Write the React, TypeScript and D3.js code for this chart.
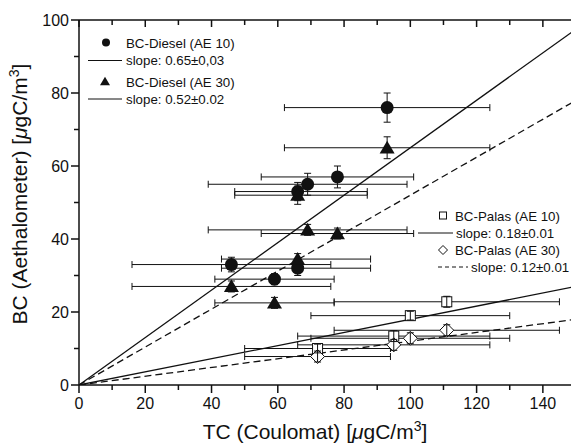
import React from "react";
import * as d3 from "d3";

// Diesel measurements (shared TC values)
const dieselTC = [93, 78, 69, 66, 66, 46, 59];
const dieselTCLo = [62, 55, 39, 47, 43, 16, 41];
const dieselTCHi = [124, 101, 99, 87, 88, 76, 77];
const dieselAE10 = [76, 57, 55, 53, 32, 33, 29];
const dieselAE10Err = [4, 3, 3, 2.5, 2, 2, 1.5];
const dieselAE30 = [65, 41.5, 42.5, 52, 34.5, 27, 22.5];
const dieselAE30Err = [3, 1.5, 1.5, 2.5, 1.5, 1.5, 1.5];

// Palas measurements
const palasTC = [72, 95, 100, 111];
const palasTCLo = [50, 66, 70, 77];
const palasTCHi = [94, 124, 130, 145];
const palasAE10 = [10, 13.4, 19, 22.8];
const palasAE10Err = [1.2, 1.5, 1.2, 1.5];
const palasAE30 = [7.8, 11, 12.8, 15];
const palasAE30Err = [1.5, 1.5, 1.5, 1.5];

// Fit slopes
const slopes = [0.65, 0.52, 0.18, 0.12];
const slopeDashed = [false, true, false, true];

const xTicks = [0, 20, 40, 60, 80, 100, 120, 140];
const yTicks = [0, 20, 40, 60, 80, 100];

const W = 571;
const H = 446;
const FONT = "'Liberation Sans', Arial, Helvetica, sans-serif";

export default function App() {
  const x = d3.scaleLinear().domain([0, 150]).range([79, 576]);
  const y = d3.scaleLinear().domain([0, 100]).range([385, 20]);
  const line = d3.line<[number, number]>().x((d) => x(d[0])).y((d) => y(d[1]));

  const minorX = d3.range(10, 151, 20);
  const minorY = d3.range(10, 100, 20);
  const allX = d3.range(0, 151, 10);

  const xErr = (xs: number[], lo: number[], hi: number[], ys: number[], key: string) =>
    xs.map((_, i) => (
      <g key={key + i} stroke="#111" strokeWidth={1} fill="none">
        <line x1={x(lo[i])} x2={x(hi[i])} y1={y(ys[i])} y2={y(ys[i])} />
        <line x1={x(lo[i])} x2={x(lo[i])} y1={y(ys[i]) - 3.5} y2={y(ys[i]) + 3.5} />
        <line x1={x(hi[i])} x2={x(hi[i])} y1={y(ys[i]) - 3.5} y2={y(ys[i]) + 3.5} />
      </g>
    ));
  const yErr = (xs: number[], ys: number[], e: number[], key: string) =>
    xs.map((_, i) => (
      <g key={key + i} stroke="#111" strokeWidth={1} fill="none">
        <line x1={x(xs[i])} x2={x(xs[i])} y1={y(ys[i] - e[i])} y2={y(ys[i] + e[i])} />
        <line x1={x(xs[i]) - 3.5} x2={x(xs[i]) + 3.5} y1={y(ys[i] - e[i])} y2={y(ys[i] - e[i])} />
        <line x1={x(xs[i]) - 3.5} x2={x(xs[i]) + 3.5} y1={y(ys[i] + e[i])} y2={y(ys[i] + e[i])} />
      </g>
    ));

  const tri = (cx: number, cy: number, s: number) =>
    `M${cx},${cy - s * 0.95} L${cx + s},${cy + s * 0.75} L${cx - s},${cy + s * 0.75} Z`;
  const dia = (cx: number, cy: number, s: number) =>
    `M${cx},${cy - s} L${cx + s},${cy} L${cx},${cy + s} L${cx - s},${cy} Z`;

  const muLabel = (pre: string) => (
    <>
      {pre}
      <tspan fontStyle="italic">μ</tspan>
      gC/m
      <tspan fontSize="14" dy="-8">3</tspan>
      <tspan dy="8">]</tspan>
    </>
  );

  return (
    <svg
      width={W}
      height={H}
      style={{ position: "absolute", left: 0, top: 0, background: "#fff" }}
      fontFamily={FONT}
    >
      <rect width={W} height={H} fill="#fff" />
      <defs>
        <clipPath id="plot">
          <rect x={79} y={20} width={497} height={365} />
        </clipPath>
      </defs>

      {/* fit lines */}
      <g clipPath="url(#plot)">
        {slopes.map((s, i) => (
          <path
            key={"fit" + i}
            d={line([
              [0, 0],
              [150, 150 * s],
            ])!}
            stroke="#111"
            strokeWidth={1.3}
            fill="none"
            strokeDasharray={slopeDashed[i] ? "7,4" : undefined}
          />
        ))}
      </g>

      {/* x error bars */}
      {xErr(dieselTC, dieselTCLo, dieselTCHi, dieselAE10, "xa")}
      {xErr(dieselTC, dieselTCLo, dieselTCHi, dieselAE30, "xb")}
      {xErr(palasTC, palasTCLo, palasTCHi, palasAE10, "xc")}
      {xErr(palasTC, palasTCLo, palasTCHi, palasAE30, "xd")}

      {/* y error bars for filled markers */}
      {yErr(dieselTC, dieselAE10, dieselAE10Err, "ya")}
      {yErr(dieselTC, dieselAE30, dieselAE30Err, "yb")}

      {/* markers */}
      {dieselTC.map((v, i) => (
        <circle key={"c" + i} cx={x(v)} cy={y(dieselAE10[i])} r={6.5} fill="#111" />
      ))}
      {dieselTC.map((v, i) => (
        <path key={"t" + i} d={tri(x(v), y(dieselAE30[i]), 7.5)} fill="#111" />
      ))}
      {palasTC.map((v, i) => (
        <rect
          key={"s" + i}
          x={x(v) - 5}
          y={y(palasAE10[i]) - 5}
          width={10}
          height={10}
          fill="#fff"
          stroke="#111"
          strokeWidth={1}
        />
      ))}
      {palasTC.map((v, i) => (
        <path key={"d" + i} d={dia(x(v), y(palasAE30[i]), 7)} fill="#fff" stroke="#111" strokeWidth={1} />
      ))}
      {yErr(palasTC, palasAE10, palasAE10Err, "yc")}
      {yErr(palasTC, palasAE30, palasAE30Err, "yd")}

      {/* axes */}
      <g stroke="#111" strokeWidth={1.5} fill="none">
        <line x1={79} x2={576} y1={385} y2={385} />
        <line x1={79} x2={576} y1={20} y2={20} />
        <line x1={79} x2={79} y1={20} y2={385} />
        {xTicks.map((t) => (
          <line key={"xt" + t} x1={x(t)} x2={x(t)} y1={385} y2={393} />
        ))}
        {minorX.map((t) => (
          <line key={"xm" + t} x1={x(t)} x2={x(t)} y1={385} y2={390} />
        ))}
        {allX.map((t) => (
          <line key={"tt" + t} x1={x(t)} x2={x(t)} y1={20} y2={t % 20 === 0 ? 27 : 25} />
        ))}
        {yTicks.map((t) => (
          <line key={"yt" + t} x1={71} x2={79} y1={y(t)} y2={y(t)} />
        ))}
        {minorY.map((t) => (
          <line key={"ym" + t} x1={74} x2={79} y1={y(t)} y2={y(t)} />
        ))}
      </g>
      <g fontSize={16} fill="#111">
        {xTicks.map((t) => (
          <text key={"xl" + t} x={x(t)} y={409} textAnchor="middle">
            {t}
          </text>
        ))}
        {yTicks.map((t) => (
          <text key={"yl" + t} x={69} y={y(t) + 6} textAnchor="end">
            {t}
          </text>
        ))}
      </g>

      {/* axis titles */}
      <text x={315} y={439} textAnchor="middle" fontSize={21} fill="#111">
        {muLabel("TC (Coulomat) [")}
      </text>
      <text
        transform="translate(27,194) rotate(-90)"
        textAnchor="middle"
        fontSize={21}
        fill="#111"
      >
        {muLabel("BC (Aethalometer) [")}
      </text>

      {/* legend 1 */}
      <g fontSize={13.3} fill="#111">
        <circle cx={106} cy={42.5} r={4} fill="#111" />
        <text x={126} y={47.5}>BC-Diesel (AE 10)</text>
        <line x1={88} x2={122} y1={60.5} y2={60.5} stroke="#111" strokeWidth={1} />
        <text x={126} y={65}>slope: 0.65±0,03</text>
        <path d={tri(105, 81.5, 5)} fill="#111" />
        <text x={126} y={86.5}>BC-Diesel (AE 30)</text>
        <line x1={88} x2={122} y1={99} y2={99} stroke="#111" strokeWidth={1} />
        <text x={126} y={104}>slope: 0.52±0.02</text>
      </g>

      {/* legend 2 */}
      <g fontSize={13.3} fill="#111">
        <rect x={439.5} y={212} width={7} height={7} fill="#fff" stroke="#111" strokeWidth={1} />
        <text x={455} y={220.5}>BC-Palas (AE 10)</text>
        <line x1={418} x2={453} y1={233} y2={233} stroke="#111" strokeWidth={1} />
        <text x={456} y={237.5}>slope: 0.18±0.01</text>
        <path d={dia(443, 250, 4.5)} fill="#fff" stroke="#111" strokeWidth={1} />
        <text x={455} y={254.5}>BC-Palas (AE 30)</text>
        <line x1={438} x2={468} y1={267} y2={267} stroke="#111" strokeWidth={1} strokeDasharray="4,3" />
        <text x={471} y={271.5}>slope: 0.12±0.01</text>
      </g>
    </svg>
  );
}
